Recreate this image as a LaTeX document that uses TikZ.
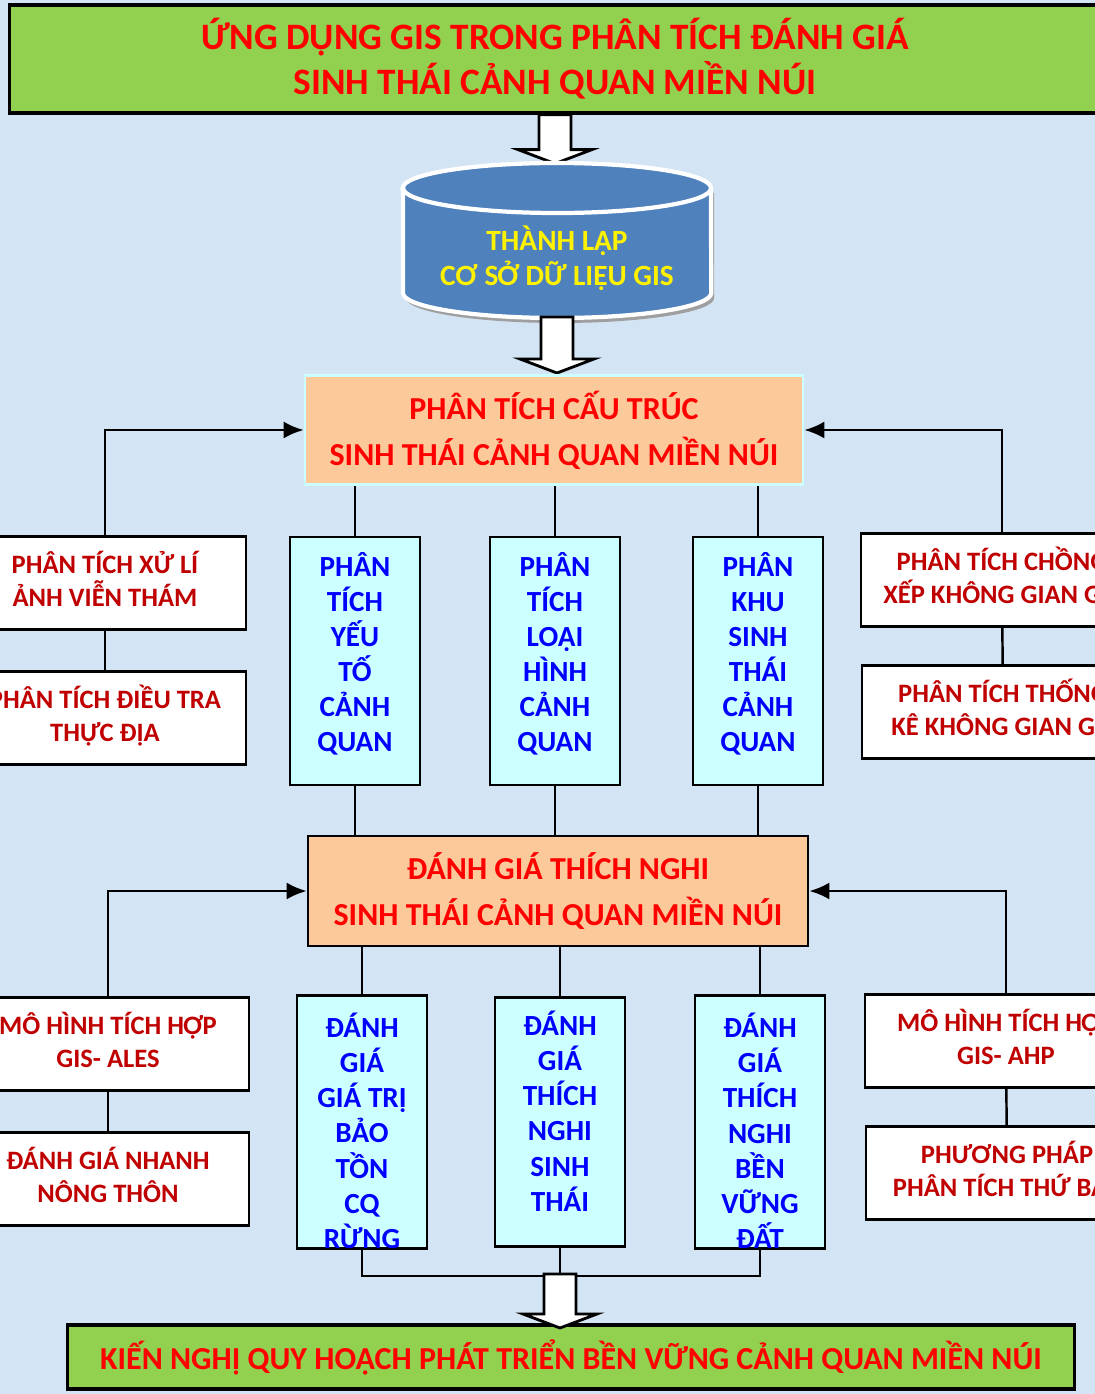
\documentclass[tikz,border=0pt]{standalone}
\usepackage{fontspec}
\setmainfont{Carlito}
\usetikzlibrary{arrows.meta, positioning, calc}
\definecolor{bgblue}{HTML}{D3E4F5}
\definecolor{titlegreen}{HTML}{92D050}
\definecolor{boxorange}{HTML}{FBC99A}
\definecolor{boxcyan}{HTML}{CCFFFF}
\definecolor{dbblue}{HTML}{4F81BD}
\definecolor{darkred}{HTML}{C00000}
\tikzstyle{headbox} = [draw, line width=0.9pt, fill=titlegreen, text=red, align=center, inner sep=0pt]
\tikzstyle{mainbox} = [draw, line width=0.7pt, fill=boxorange, text=red, align=center, inner sep=0pt,
  minimum width=5cm, minimum height=1.1cm, font=\bfseries\fontsize{9.1}{13}\selectfont]
\tikzstyle{sidebox} = [draw, line width=0.8pt, fill=white, text=darkred, align=center, inner sep=0pt,
  minimum width=2.82cm, minimum height=0.93cm, text depth=0.09cm, font=\bfseries\fontsize{7.55}{9.4}\selectfont]
\tikzstyle{stepcol} = [draw, line width=0.8pt, fill=boxcyan, text=blue, align=center, inner sep=0pt,
  minimum width=1.3cm, minimum height=2.48cm, font=\bfseries\fontsize{8.3}{10}\selectfont]
\tikzstyle{bigarrow} = [draw, line width=0.8pt, fill=white]
\newcommand{\bigdown}[2]{% start, length
  \draw[bigarrow] ($(#1)+(-16,0)$) -- ++(0,#2-14) -- ++(-21,0) -- ++(37,14) -- ++(37,-14) -- ++(-21,0) -- ++(0,14-#2) -- cycle;}
\newcommand{\topstrut}{\rule{0pt}{0.42cm}}

\begin{document}
\begin{tikzpicture}[x=0.01cm, y=-0.01cm, >={Latex[length=0.2cm,width=0.17cm]}, line width=0.7pt]
  \useasboundingbox (0,0) rectangle (1095,1394);
  \fill[bgblue] (0,0) rectangle (1095,1394);
  \clip (0,0) rectangle (1095,1394);

  % title and database
  \node[headbox, minimum width=10.9cm, minimum height=1.08cm, font=\bfseries\fontsize{10.6}{12.8}\selectfont] (title) at (555,59)
    {ỨNG DỤNG GIS TRONG PHÂN TÍCH ĐÁNH GIÁ\\SINH THÁI CẢNH QUAN MIỀN NÚI};
  \bigdown{title.south}{49}
  \coordinate (db) at (557,240);
  \fill[gray!75] ($(db)+(-151,-47)$) -- ($(db)+(-151,58)$) arc[start angle=180, end angle=360, x radius=1.54cm, y radius=0.25cm]
    -- ($(db)+(157,-47)$) -- cycle;
  \draw[white, line width=1.2pt, fill=dbblue] ($(db)+(-154,-52)$) -- ($(db)+(-154,53)$)
    arc[start angle=180, end angle=360, x radius=1.54cm, y radius=0.25cm] -- ($(db)+(154,-52)$)
    arc[start angle=0, end angle=180, x radius=1.54cm, y radius=0.25cm] -- cycle;
  \draw[white, line width=1.2pt] ($(db)+(-154,-52)$) arc[start angle=180, end angle=360, x radius=1.54cm, y radius=0.25cm];
  \node[text=yellow, align=center, font=\bfseries\fontsize{8.35}{10}\selectfont] (dbtext) at (557,258)
    {THÀNH LẬP\\CƠ SỞ DỮ LIỆU GIS};
  \coordinate (dbout) at (557,317);
  \bigdown{dbout}{56}

  % structure analysis
  \node[mainbox, draw=boxcyan, minimum height=1.09cm, minimum width=4.98cm] (struct) at (554,430)
    {PHÂN TÍCH CẤU TRÚC\\SINH THÁI CẢNH QUAN MIỀN NÚI};
  \node[sidebox] (rs) at (105,583) {PHÂN TÍCH XỬ LÍ\\ẢNH VIỄN THÁM};
  \node[sidebox] (field) at (105,718) {PHÂN TÍCH ĐIỀU TRA\\THỰC ĐỊA};
  \node[sidebox] (overlay) at (1002,580) {PHÂN TÍCH CHỒNG\\XẾP KHÔNG GIAN GIS};
  \node[sidebox] (stats) at (1003,712) {PHÂN TÍCH THỐNG\\KÊ KHÔNG GIAN GIS};
  \node[stepcol, text depth=0.18cm] (factor) at (355,661) {PHÂN\\TÍCH\\YẾU\\TỐ\\CẢNH\\QUAN};
  \node[stepcol, text depth=0.18cm] (type) at (555,661) {PHÂN\\TÍCH\\LOẠI\\HÌNH\\CẢNH\\QUAN};
  \node[stepcol, text depth=0.18cm] (zone) at (758,661) {PHÂN\\KHU\\SINH\\THÁI\\CẢNH\\QUAN};

  % suitability evaluation
  \node[mainbox] (eval) at (558,891) {ĐÁNH GIÁ THÍCH NGHI\\SINH THÁI CẢNH QUAN MIỀN NÚI};
  \node[sidebox] (ales) at (108,1044) {MÔ HÌNH TÍCH HỢP\\GIS- ALES};
  \node[sidebox] (rural) at (108,1179) {ĐÁNH GIÁ NHANH\\NÔNG THÔN};
  \node[sidebox] (ahp) at (1006,1041) {MÔ HÌNH TÍCH HỢP\\GIS- AHP};
  \node[sidebox] (hier) at (1007,1173) {PHƯƠNG PHÁP\\PHÂN TÍCH THỨ BẬC};
  \node[stepcol, minimum height=2.49cm] (forest) at (362,1122) {\topstrut ĐÁNH\\GIÁ\\GIÁ TRỊ\\BẢO\\TỒN\\CQ\\RỪNG};
  \node[stepcol, minimum height=2.49cm, text depth=0.22cm] (eco) at (560,1122) {ĐÁNH\\GIÁ\\THÍCH\\NGHI\\SINH\\THÁI};
  \node[stepcol, minimum height=2.49cm] (land) at (760,1122) {\topstrut ĐÁNH\\GIÁ\\THÍCH\\NGHI\\BỀN\\VỮNG\\ĐẤT};

  \node[headbox, minimum width=10.07cm, minimum height=0.64cm, font=\bfseries\fontsize{9.1}{12}\selectfont] (plan) at (571,1357)
    {KIẾN NGHỊ QUY HOẠCH PHÁT TRIỂN BỀN VỮNG CẢNH QUAN MIỀN NÚI};

  % connectors
  \draw[->] (rs.north) |- (struct.west);
  \draw[->] (overlay.north) |- (struct.east);
  \draw (rs) -- (field);
  \draw (overlay) -- (stats);
  \foreach \n in {factor, type, zone} {
    \draw (\n.north) -- (\n.north |- struct.south);
    \draw (\n.south) -- (\n.south |- eval.north);
  }
  \draw[->] (ales.north) |- (eval.west);
  \draw[->] (ahp.north) |- (eval.east);
  \draw (ales) -- (rural);
  \draw (ahp) -- (hier);
  \foreach \n in {forest, eco, land}
    \draw (\n.north) -- (\n.north |- eval.south);
  \draw (forest.south) -- ++(0,26) -| (land.south);
  \draw (eco.south) -- ++(0,26) coordinate (merge);
  \bigdown{merge}{54}
\end{tikzpicture}
\end{document}
